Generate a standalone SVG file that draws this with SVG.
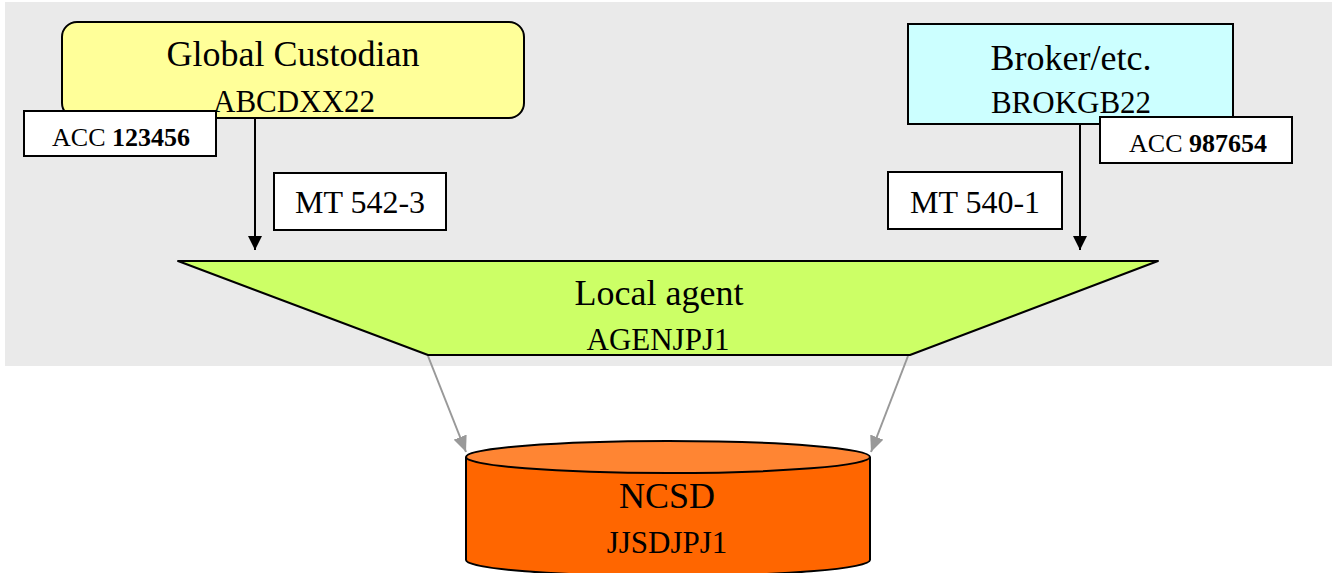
<svg xmlns="http://www.w3.org/2000/svg" width="1332" height="573" viewBox="0 0 1332 573">
<style>
text{font-family:"Liberation Serif","Times New Roman",serif;fill:#000;text-anchor:middle}
.t{font-size:36px}
.s{font-size:31px}
.acc{font-size:26px}
.mt{font-size:32px}
.box{stroke:#000;stroke-width:2}
.lbl{fill:#fff;stroke:#000;stroke-width:2}
.blk{stroke:#000;stroke-width:2;fill:none}
.gry{stroke:#999;stroke-width:2;fill:none}
</style>
<defs>
<marker id="ab" markerWidth="16" markerHeight="14" refX="14" refY="7" orient="auto" markerUnits="userSpaceOnUse"><path d="M0,0 L14,7 L0,14 z" fill="#000"/></marker>
<marker id="ag" markerWidth="18" markerHeight="14" refX="16" refY="7" orient="auto" markerUnits="userSpaceOnUse"><path d="M0,0 L16,7 L0,14 z" fill="#999"/></marker>
</defs>
<rect x="5" y="2" width="1327" height="364" fill="#eaeaea"/>
<g id="connectors">
<line class="blk" x1="255" y1="118" x2="255" y2="250" marker-end="url(#ab)"/>
<line class="blk" x1="1080" y1="124" x2="1080" y2="250" marker-end="url(#ab)"/>
<line class="gry" x1="428" y1="356" x2="466" y2="452" marker-end="url(#ag)"/>
<line class="gry" x1="908" y1="356" x2="871" y2="452" marker-end="url(#ag)"/>
</g>
<g id="global-custodian">
<rect class="box" x="62" y="22" width="462" height="96" rx="15" fill="#ffff99"/>
<text class="t" x="293" y="66">Global Custodian</text>
<text class="s" x="294" y="112">ABCDXX22</text>
</g>
<g id="acc-123456">
<rect class="lbl" x="24" y="111" width="192" height="45"/>
<text class="acc" x="121" y="146">ACC <tspan font-weight="bold">123456</tspan></text>
</g>
<g id="mt-542-3">
<rect class="lbl" x="274" y="173" width="172" height="57"/>
<text class="mt" x="360" y="213">MT 542-3</text>
</g>
<g id="broker">
<rect class="box" x="908" y="24" width="325" height="100" fill="#ccffff"/>
<text class="t" x="1071" y="70">Broker/etc.</text>
<text class="s" x="1071" y="113">BROKGB22</text>
</g>
<g id="acc-987654">
<rect class="lbl" x="1100" y="117" width="192" height="46"/>
<text class="acc" x="1198" y="152">ACC <tspan font-weight="bold">987654</tspan></text>
</g>
<g id="mt-540-1">
<rect class="lbl" x="888" y="172" width="174" height="57"/>
<text class="mt" x="975" y="213">MT 540-1</text>
</g>
<g id="local-agent">
<polygon class="box" points="178,261 1158,261 910,355 428,355" fill="#ccff66" stroke-linejoin="round"/>
<text class="t" x="659" y="305">Local agent</text>
<text class="s" x="658" y="350">AGENJPJ1</text>
</g>
<g id="ncsd">
<path class="box" d="M466,457 L466,560 A202,16 0 0 0 870,560 L870,457" fill="#ff6600"/>
<ellipse class="box" cx="668" cy="457" rx="202" ry="16" fill="#ff8533"/>
<text class="t" x="667" y="508">NCSD</text>
<text class="s" x="667" y="553">JJSDJPJ1</text>
</g>
</svg>
